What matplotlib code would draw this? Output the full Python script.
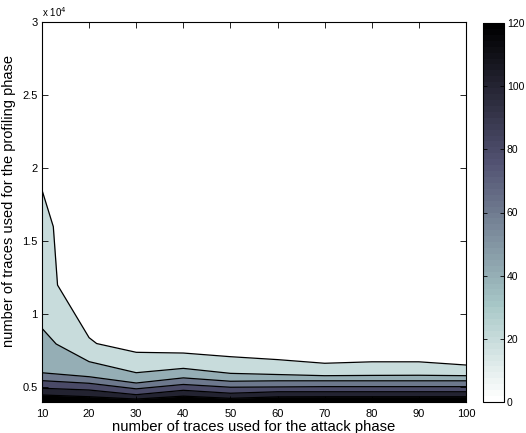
import numpy as np
import matplotlib
matplotlib.use("Agg")
import matplotlib.pyplot as plt
from matplotlib.colors import ListedColormap, Normalize
from matplotlib.cm import ScalarMappable

plt.rcParams['font.family'] = ['Liberation Sans', 'DejaVu Sans']

# contour levels (colour of each band) and boundary curves
levels = [0, 20, 40, 60, 80, 100, 120]

x_l20 = [10, 12.4, 13.3, 20, 21.6, 30, 40, 50, 60, 70, 80, 90, 100]
y_l20 = [18500, 16000, 12000, 8400, 8000, 7400, 7350, 7100, 6900, 6650, 6750, 6750, 6530]

x_l40 = [10, 13, 20, 30, 40, 50, 60, 70, 80, 90, 100]
y_l40 = [9040, 7970, 6760, 6005, 6300, 5960, 5880, 5800, 5820, 5830, 5800]

x_attack = [10, 20, 30, 40, 50, 60, 70, 80, 90, 100]
y_l60 = [6000, 5730, 5300, 5650, 5420, 5450, 5450, 5450, 5450, 5450]
y_l80 = [5460, 5280, 4900, 5200, 5010, 5030, 5050, 5050, 5050, 5050]
y_l100 = [4940, 4820, 4500, 4800, 4600, 4700, 4700, 4700, 4700, 4700]
y_l120 = [4480, 4360, 4200, 4400, 4250, 4350, 4360, 4360, 4360, 4360]

x_ticks = [10, 20, 30, 40, 50, 60, 70, 80, 90, 100]
y_ticks = [5000, 10000, 15000, 20000, 25000, 30000]
y_ticklabels = ['0.5', '1', '1.5', '2', '2.5', '3']
cbar_ticks = [0, 20, 40, 60, 80, 100, 120]

cmap = ListedColormap(plt.get_cmap('bone_r')(np.linspace(0, 1, 64)))
norm = Normalize(0, 120)

fig = plt.figure(figsize=(5.26, 4.33), dpi=100)
ax = fig.add_axes([42/526, 31/433, 424/526, 380/433])

ymin, ymax = 4000, 30000
boundaries = [(x_l20, y_l20), (x_l40, y_l40), (x_attack, y_l60), (x_attack, y_l80),
              (x_attack, y_l100), (x_attack, y_l120)]
for (xs, ys), lev in zip(boundaries, levels[1:]):
    ax.fill_between(xs, ys, ymin, color=cmap(norm(lev)), linewidth=0, zorder=1)
for xs, ys in boundaries:
    ax.plot(xs, ys, color='black', linewidth=0.9, zorder=2)

ax.set_xlim(10, 100)
ax.set_ylim(ymin, ymax)
ax.set_xticks(x_ticks)
ax.set_yticks(y_ticks)
ax.set_yticklabels(y_ticklabels)
ax.tick_params(direction='in', top=True, right=True, labelsize=8, length=4, width=0.6)
ax.tick_params(axis='x', pad=5)
ax.tick_params(axis='y', pad=3)
for s in ax.spines.values():
    s.set_linewidth(0.8)
ax.set_xlabel('number of traces used for the attack phase', fontsize=10.7, labelpad=1)
ax.set_ylabel('number of traces used for the profiling phase', fontsize=10.5, labelpad=2)
ax.yaxis.set_label_coords(-0.062, 0.53)
ax.text(0.0, 1.008, r'x 10$^4$', transform=ax.transAxes, fontsize=7, ha='left', va='bottom')

cax = fig.add_axes([483/526, 31/433, 21/526, 379/433])
cb = fig.colorbar(ScalarMappable(norm=norm, cmap=cmap), cax=cax, ticks=cbar_ticks)
cb.ax.tick_params(direction='in', left=True, right=True, labelsize=7.5, length=3, width=0.6, pad=2)
cb.outline.set_linewidth(0.8)

fig.savefig('out.png', dpi=100)
